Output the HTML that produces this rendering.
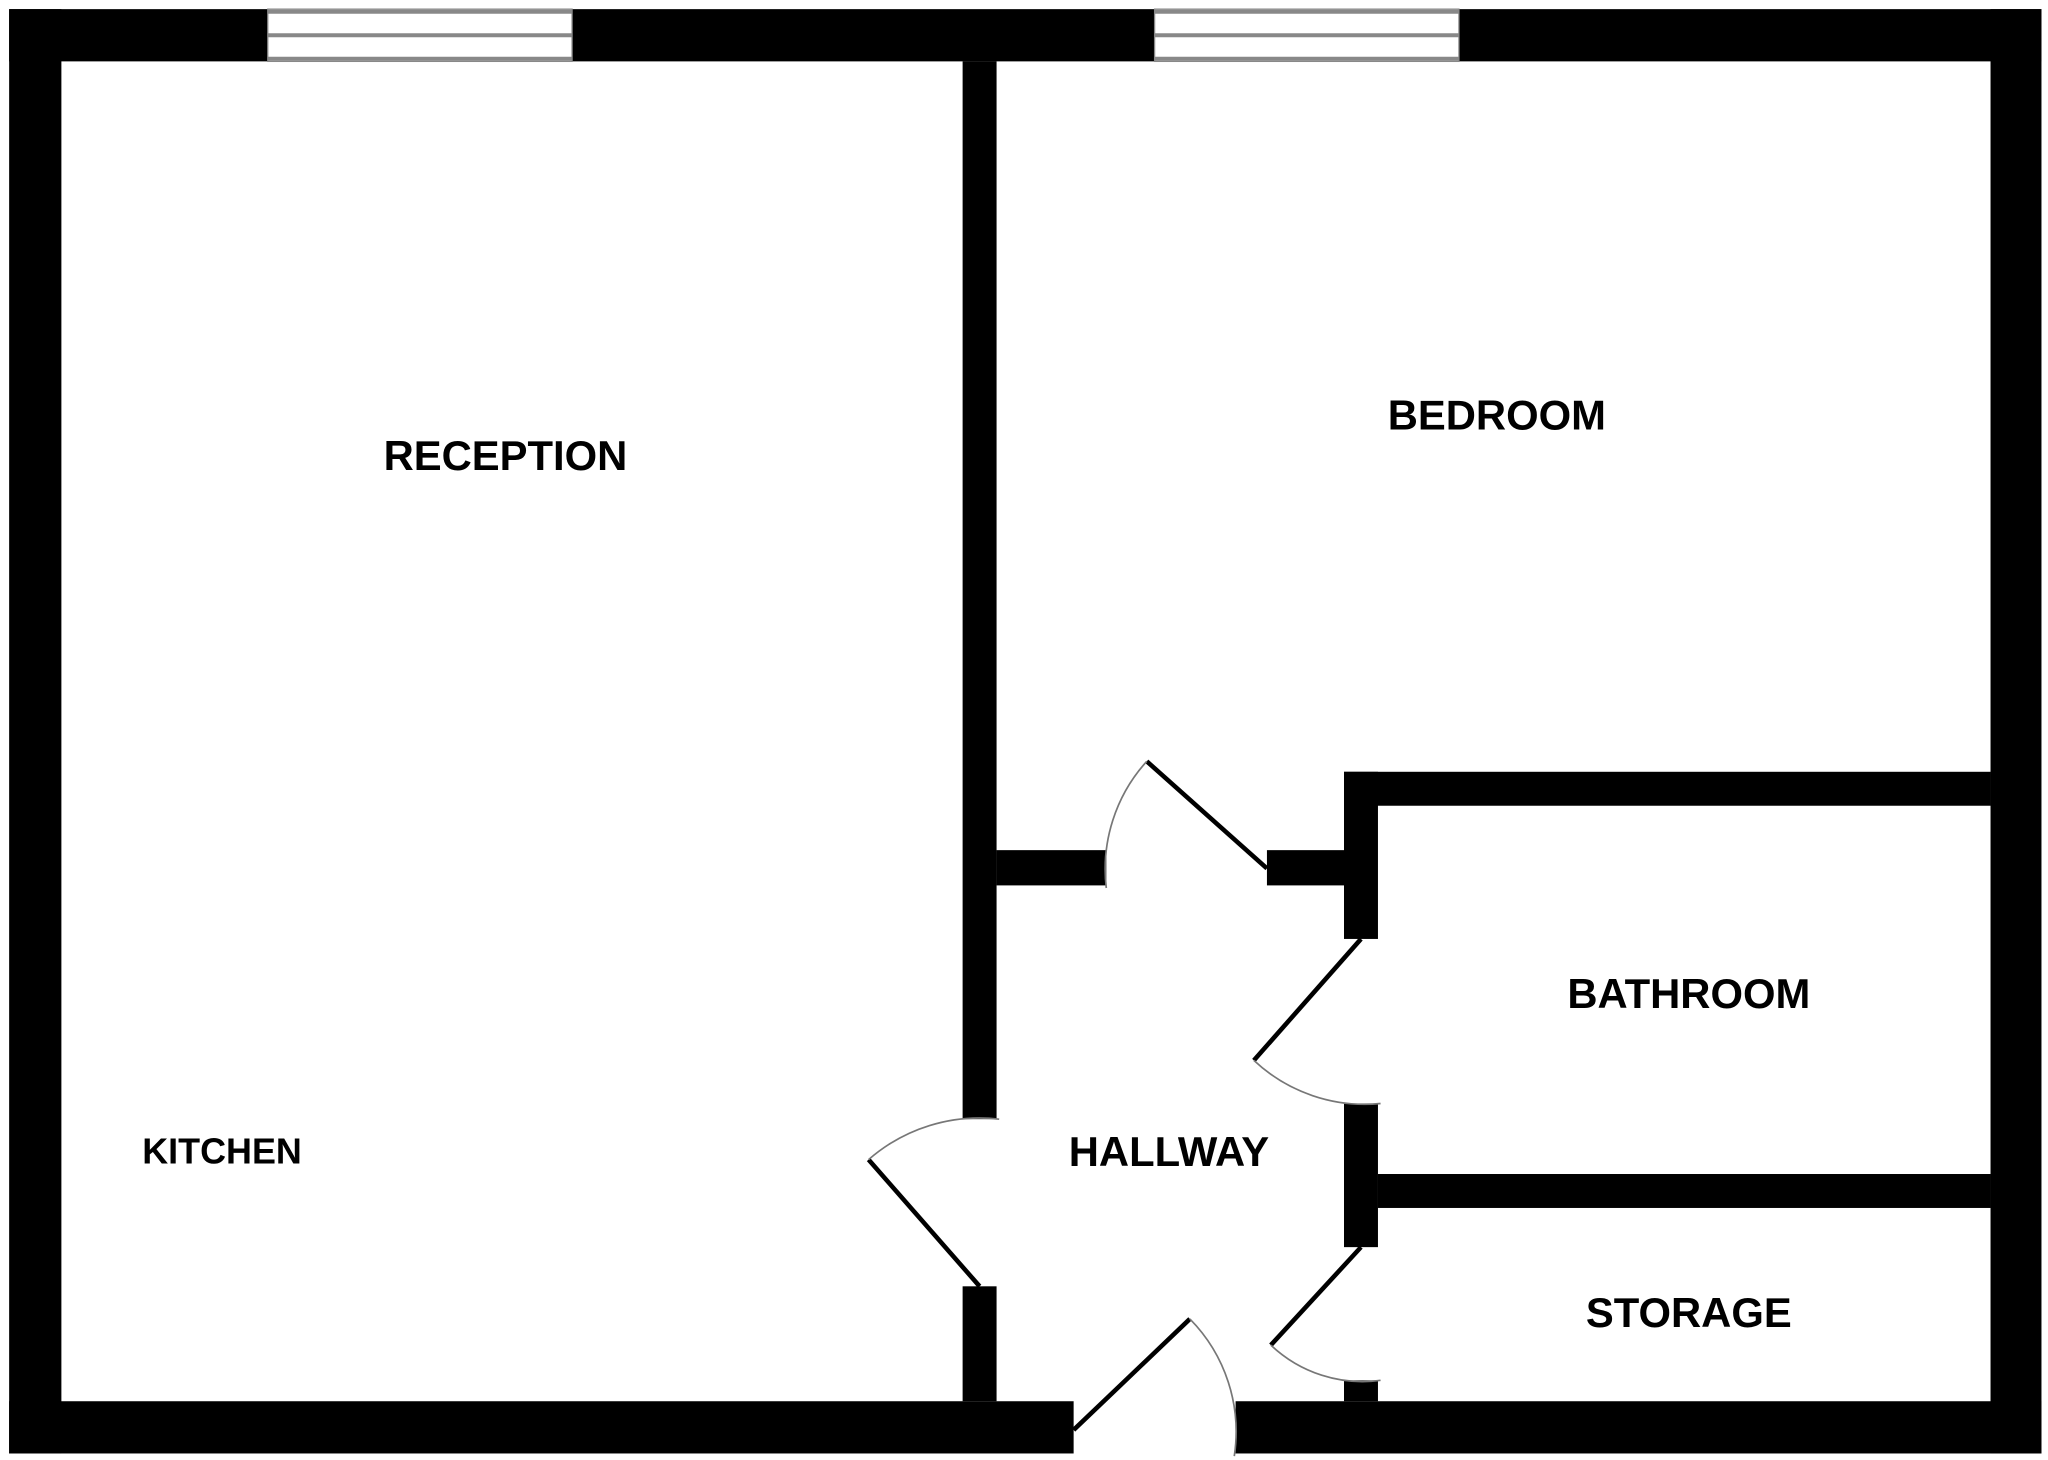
<!DOCTYPE html>
<html><head><meta charset="utf-8"><style>
html,body{margin:0;padding:0;background:#fff;}
svg{display:block;}
text{font-family:"Liberation Sans",Arial,sans-serif;font-weight:bold;fill:#000;}
</style></head><body>
<svg width="2048" height="1460" viewBox="0 0 1568 1118" preserveAspectRatio="none" xmlns="http://www.w3.org/2000/svg">
<rect width="1568" height="1118" fill="#fff"/>
<g fill="#000">
<rect x="7" y="7" width="40" height="1106"/>
<rect x="1524" y="7" width="39" height="1106"/>
<rect x="7" y="7" width="198" height="40"/>
<rect x="438" y="7" width="446" height="40"/>
<rect x="1117" y="7" width="446" height="40"/>
<rect x="7" y="1073" width="815" height="40"/>
<rect x="946" y="1073" width="617" height="40"/>
<rect x="737" y="47" width="26" height="810"/>
<rect x="737" y="985" width="26" height="88"/>
<rect x="763" y="651" width="84" height="27"/>
<rect x="970" y="651" width="60" height="27"/>
<rect x="1029" y="591" width="495" height="26"/>
<rect x="1029" y="591" width="26" height="128"/>
<rect x="1029" y="845" width="26" height="110"/>
<rect x="1029" y="1057" width="26" height="16"/>
<rect x="1055" y="899" width="469" height="26"/>
</g>
<g fill="#fff" stroke="#888">
<rect x="205" y="7" width="233" height="40" stroke-width="1"/>
<rect x="884" y="7" width="233" height="40" stroke-width="1"/>
</g>
<g stroke="#888" stroke-width="3">
<line x1="205" y1="9" x2="438" y2="9"/><line x1="205" y1="27" x2="438" y2="27"/><line x1="205" y1="45" x2="438" y2="45"/>
<line x1="884" y1="9" x2="1117" y2="9"/><line x1="884" y1="27" x2="1117" y2="27"/><line x1="884" y1="45" x2="1117" y2="45"/>
</g>
<g stroke="#000" stroke-width="3.5" fill="none">
<line x1="970" y1="665" x2="878" y2="583"/>
<line x1="1042" y1="719" x2="960" y2="812"/>
<line x1="750" y1="985" x2="665" y2="888"/>
<line x1="822" y1="1095" x2="911" y2="1010"/>
<line x1="1042" y1="955" x2="973" y2="1030"/>
</g>
<g stroke="#777" stroke-width="1.3" fill="none">
<path d="M878 583 A123 123 0 0 0 847 680"/>
<path d="M960 812 A124 124 0 0 0 1057 845"/>
<path d="M665 888 A129 129 0 0 1 765 857"/>
<path d="M911 1010 A123 123 0 0 1 945 1115"/>
<path d="M973 1030 A102 102 0 0 0 1057 1057"/>
</g>
<g text-anchor="middle" font-size="32">
<text x="387" y="360">RECEPTION</text>
<text x="1146" y="329">BEDROOM</text>
<text x="1293" y="772">BATHROOM</text>
<text x="895" y="893">HALLWAY</text>
<text x="1293" y="1016">STORAGE</text>
<text x="170" y="891" font-size="27.5">KITCHEN</text>
</g>
</svg>
</body></html>
